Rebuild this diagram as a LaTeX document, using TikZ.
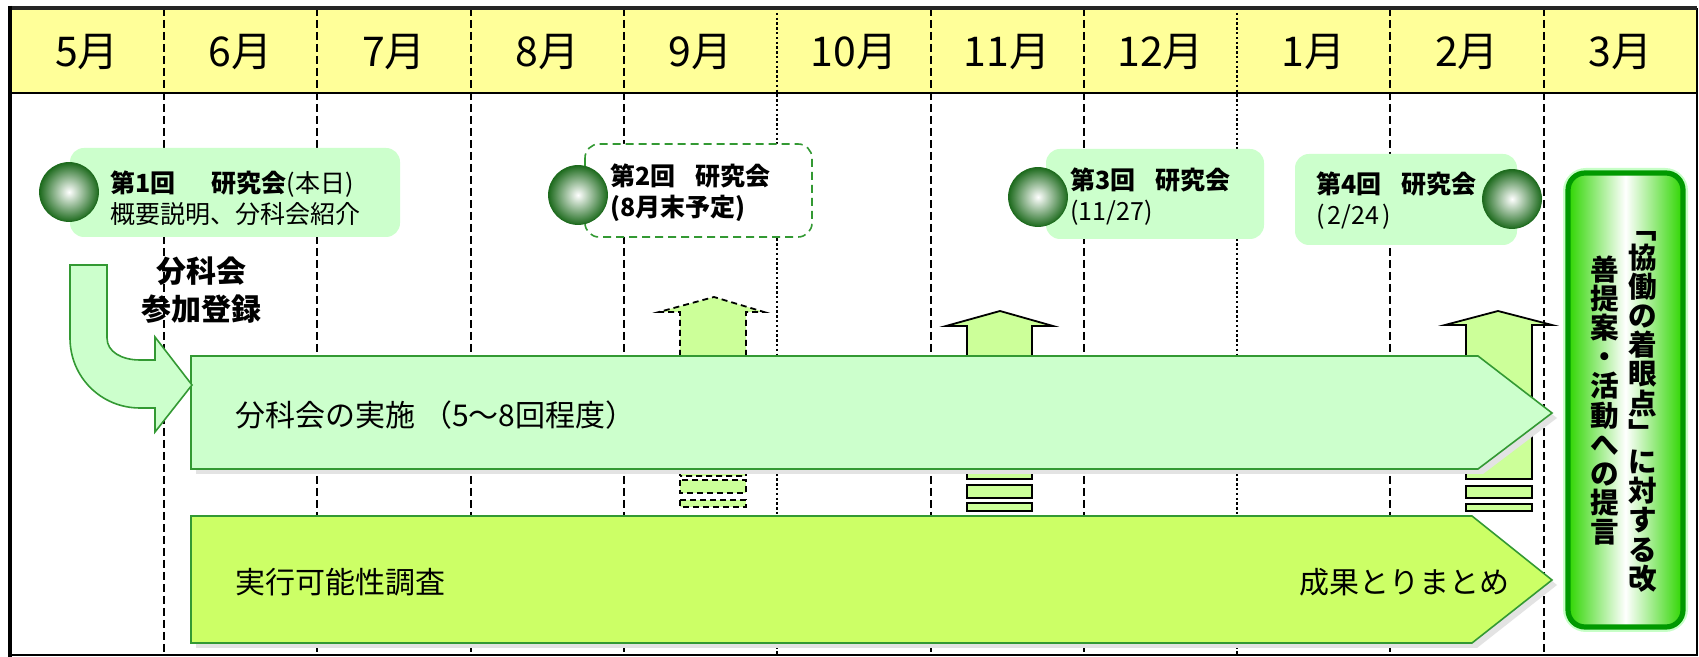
\documentclass[tikz,border=0pt]{standalone}
\usepackage{fontspec}
\setmainfont{Noto Sans CJK JP}
\definecolor{hdrfill}{HTML}{FFFF99}
\definecolor{palegreen}{HTML}{CCFFCC}
\definecolor{limefill}{HTML}{CCFF66}
\definecolor{upfill}{HTML}{CCFF99}
\definecolor{edgegreen}{HTML}{339933}
\definecolor{balldark}{HTML}{1E6B1E}
\definecolor{finbright}{HTML}{2ED600}
\definecolor{finedge}{HTML}{009900}
\definecolor{shadowgray}{HTML}{E3E3E3}
\tikzset{
  divline/.style={line width=1pt, dash pattern=on 4pt off 2pt},
  dotline/.style={line width=1pt, dash pattern=on 1.2pt off 1.2pt},
  evbox/.style={fill=palegreen, draw=none, rounded corners=7pt},
  ballnode/.style={circle, minimum size=29.5pt, inner sep=0pt, shading=radial, inner color=white, outer color=balldark, draw=balldark, line width=0.4pt},
  monthlabel/.style={font=\fontsize{20.5}{20.5}\selectfont, inner sep=0pt},
  evtext/.style={font=\fontsize{12.5}{15.5}\selectfont, align=left, anchor=west, inner sep=0pt},
  bigarr/.style={draw=edgegreen, line width=0.8pt},
  arrtext/.style={font=\fontsize{15}{15}\selectfont, inner sep=0pt},
  upbox/.style={fill=upfill, draw=black, line width=0.9pt},
  updash/.style={upbox, dash pattern=on 3pt off 2pt},
  vtext/.style={font=\bfseries\fontsize{14.3}{14.6}\selectfont, align=center, inner sep=0pt},
}
\begin{document}
\begin{tikzpicture}[x=0.5pt, y=-0.5pt]
\useasboundingbox (0,0) rectangle (1699,657);
\fill[white] (0,0) rectangle (1699,657);
% header band
\fill[hdrfill] (10,8) rectangle (1697,93);
% column dividers
\foreach \xx in {164,317.3,470.6,623.9,930.5,1083.8,1390.4,1543.7}
  \draw[divline] (\xx,8) -- (\xx,655);
\foreach \xx in {777.2,1237.1}
  \draw[dotline] (\xx,8) -- (\xx,655);
% header bottom line and frame
\draw[line width=1.1pt] (10,93) -- (1697,93);
\draw[line width=0.8pt] (10,655) -- (1697,655) -- (1697,8);
\draw[line width=2pt, black!85] (10,8) -- (1697,8);
\draw[line width=2.2pt] (10,6) -- (10,657);
% month labels
\node[monthlabel] (m5) at (87,52) {5月};
\node[monthlabel] (m6) at (240.6,52) {6月};
\node[monthlabel] (m7) at (394,52) {7月};
\node[monthlabel] (m8) at (547.3,52) {8月};
\node[monthlabel] (m9) at (700.6,52) {9月};
\node[monthlabel] (m10) at (853.9,52) {10月};
\node[monthlabel] (m11) at (1007.2,52) {11月};
\node[monthlabel] (m12) at (1160.5,52) {12月};
\node[monthlabel] (m1) at (1313.8,52) {1月};
\node[monthlabel] (m2) at (1467.1,52) {2月};
\node[monthlabel] (m3) at (1620.4,52) {3月};
% event boxes
\fill[evbox] (70,148) rectangle (400,237);
\filldraw[fill=white, draw=edgegreen, line width=0.8pt, dash pattern=on 4pt off 2.5pt, rounded corners=7pt] (585,144) rectangle (812,237);
\fill[evbox] (1046,149) rectangle (1264,239);
\fill[evbox] (1295,154) rectangle (1517,245);
% balls
\node[ballnode] (b1) at (69,192) {};
\node[ballnode] (b2) at (578,195) {};
\node[ballnode] (b3) at (1038,197) {};
\node[ballnode] (b4) at (1512,199) {};
% event texts
\node[evtext] (t1) at (110,198) {\textbf{第1回}\hspace{18pt}\textbf{研究会}(本日)\\概要説明、分科会紹介};
\node[evtext, font=\bfseries\fontsize{12.5}{15.5}\selectfont] (t2) at (610,193) {第2回\hspace{10pt}研究会\\(8月末予定)};
\node[evtext] (t3) at (1070,197) {\textbf{第3回\hspace{10pt}研究会}\\(11/27)};
\node[evtext] (t4) at (1316,201) {\textbf{第4回\hspace{10pt}研究会}\\(\hspace{1.5pt}2/24\hspace{1.5pt})};
% registration label
\node[font=\bfseries\fontsize{15}{19}\selectfont, align=center, inner sep=0pt] (reg) at (201,290) {分科会\\参加登録};
% up arrows (behind the big arrows)
\draw[updash] (680,476) -- (680,312) -- (659,312) -- (714,297) -- (764,312) -- (746,312) -- (746,476) -- cycle;
\draw[updash] (680,480) rectangle (746,493);
\draw[updash] (680,500) rectangle (746,507);
\draw[upbox] (967,479) -- (967,326) -- (946,326) -- (1000,311) -- (1053,326) -- (1032,326) -- (1032,479) -- cycle;
\draw[upbox] (967,485) rectangle (1032,498);
\draw[upbox] (967,503) rectangle (1032,511);
\draw[upbox] (1466,479) -- (1466,325) -- (1445,325) -- (1498,311) -- (1552,325) -- (1532,325) -- (1532,479) -- cycle;
\draw[upbox] (1466,486) rectangle (1532,498);
\draw[upbox] (1466,504) rectangle (1532,511);
% big arrows with shadows
\fill[shadowgray] (196,361) -- (1483,361) -- (1557,418) -- (1483,474) -- (196,474) -- cycle;
\filldraw[fill=palegreen, bigarr] (191,356) -- (1478,356) -- (1552,413) -- (1478,469) -- (191,469) -- cycle;
\fill[shadowgray] (196,521) -- (1477,521) -- (1557,585) -- (1477,648) -- (196,648) -- cycle;
\filldraw[fill=limefill, bigarr] (191,516) -- (1472,516) -- (1552,580) -- (1472,643) -- (191,643) -- cycle;
\node[arrtext, anchor=west] (a1) at (235,415) {分科会の実施 （5～8回程度）};
\node[arrtext, anchor=west] (a2) at (235,582) {実行可能性調査};
\node[arrtext, anchor=east] (a3) at (1510,582) {成果とりまとめ};
% bent arrow
\filldraw[fill=palegreen, draw=edgegreen, line width=0.8pt]
  (70,265) -- (107,265) -- (107,338) .. controls (107,352) and (122,360) .. (140,360)
  -- (155,360) -- (155,337) -- (192,385) -- (155,432) -- (155,408) -- (140,408)
  .. controls (101,408) and (70,377) .. (70,338) -- cycle;
% final proposal box
\draw[green!22, line width=5pt, rounded corners=9pt] (1568,173) rectangle (1683,627);
\draw[finedge, line width=2.6pt, rounded corners=8.5pt, left color=finbright, right color=finbright, middle color=white] (1568,173) rectangle (1683,627);
\node[vtext] (v1) at (1643,412) {\lineskiplimit=-20pt\relax ﹁\\協\\働\\の\\着\\眼\\点\\﹂\\に\\対\\す\\る\\改};
\node[vtext] (v2) at (1605,400.5) {\lineskiplimit=-20pt\relax 善\\提\\案\\・\\活\\動\\へ\\の\\提\\言};
\end{tikzpicture}
\end{document}
